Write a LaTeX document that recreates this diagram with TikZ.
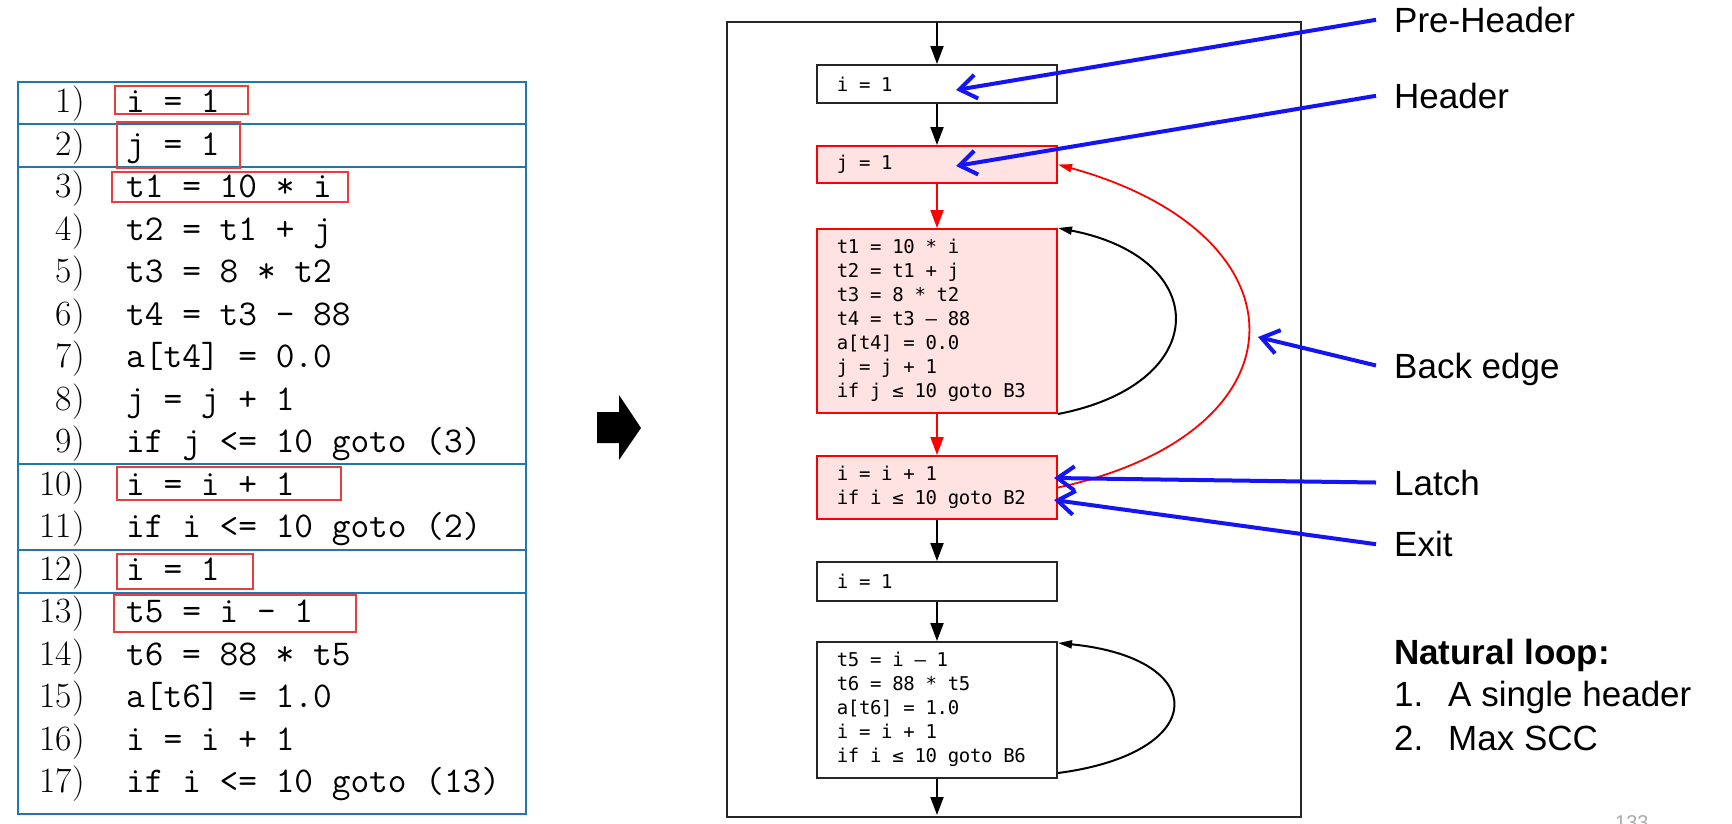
\documentclass[tikz,border=0pt]{standalone}
\usepackage{fontspec}
\setmainfont{Latin Modern Roman}
\setmonofont{Latin Modern Mono}
\newfontfamily\cfgfont{DejaVu Sans Mono}
\newfontfamily\labfont{Liberation Sans}
\usetikzlibrary{arrows.meta,calc}
\definecolor{panelblue}{RGB}{30,120,175}
\definecolor{codered}{RGB}{232,62,62}
\definecolor{hlred}{RGB}{255,0,0}
\definecolor{hlfill}{RGB}{255,226,226}
\definecolor{annblue}{RGB}{20,20,245}
\definecolor{pagegray}{RGB}{170,170,170}
\ExplSyntaxOn
\NewDocumentCommand\mline{m}{ \tl_map_inline:nn {#1} { \makebox[11.1pt][c]{##1} } }
\ExplSyntaxOff
\tikzset{
  num/.style={anchor=base east, inner sep=0pt, font=\rmfamily\fontsize{35.5}{42}\selectfont},
  code/.style={anchor=base west, inner sep=0pt, font=\ttfamily\fontsize{36.3}{42}\selectfont},
  redbox/.style={draw=codered, line width=2.8pt},
  sepline/.style={draw=panelblue, line width=2.2pt},
  block/.style={draw=black!85, line width=2pt, fill=white, minimum width=240pt,
    text width=200pt, inner xsep=20pt, inner ysep=0pt, align=left,
    font=\cfgfont\fontsize{19}{24}\selectfont},
  hot/.style={block, draw=hlred, fill=hlfill},
  flow/.style={line width=2pt, -{Triangle[length=18pt,width=13pt]}},
  loopedge/.style={line width=2pt, -{Triangle[length=14pt,width=8pt]}},
  ann/.style={draw=annblue, line width=4pt, -{Straight Barb[length=17pt,width=24pt]}},
  lab/.style={anchor=base west, inner xsep=18pt, inner ysep=0pt, text height=25pt, text depth=0pt,
    font=\labfont\fontsize{35}{42}\selectfont},
  txt/.style={anchor=base west, inner sep=0pt, font=\labfont\fontsize{35}{42}\selectfont}
}
\begin{document}
\begin{tikzpicture}[x=1pt,y=-1pt]
\useasboundingbox (0,0) rectangle (1732,823);

% ---------- left panel ----------
\draw[sepline] (18,82) rectangle (526,814);
\foreach \yy in {124,167,464,550,593} \draw[sepline] (18,\yy) -- (526,\yy);

\foreach \k/\c in {1/{i = 1},2/{j = 1},3/{t1 = 10 * i},4/{t2 = t1 + j},5/{t3 = 8 * t2},
  6/{t4 = t3 - 88},7/{a[t4] = 0.0},8/{j = j + 1},9/{if j <= 10 goto (3)},
  10/{i = i + 1},11/{if i <= 10 goto (2)},12/{i = 1},13/{t5 = i - 1},
  14/{t6 = 88 * t5},15/{a[t6] = 1.0},16/{i = i + 1},17/{if i <= 10 goto (13)}} {
  \pgfmathsetmacro{\yb}{112.7+(\k-1)*42.5}
  \node[num] (n\k) at (85,\yb) {\k)};
  \node[code] (c\k) at (126,\yb) {\c};
}

\draw[redbox] (115,86) rectangle (248,114);
\draw[redbox] (117,122) rectangle (240,168);
\draw[redbox] (112,172) rectangle (348,202);
\draw[redbox] (117,467) rectangle (341,500);
\draw[redbox] (117,554) rectangle (253,589);
\draw[redbox] (114,595) rectangle (356,632);

% ---------- big arrow ----------
\fill (597,412) -- (619,412) -- (619,395) -- (641,428) -- (619,460) -- (619,443) -- (597,443) -- cycle;

% ---------- CFG ----------
\draw[line width=2pt, draw=black!85] (727,22) rectangle (1301,817);
\coordinate (entry) at (937,22);
\coordinate (exitpt) at (937,815);

\node[block, minimum height=38pt] (B1) at (937,84) {\mline{i~=~1}};
\node[hot, minimum height=37pt] (B2) at (937,164.5) {\mline{j~=~1}};
\node[hot, minimum height=184pt] (B3) at (937,321) {\strut\mline{t1~=~10~*~i}\\ \mline{t2~=~t1~+~j}\\ \mline{t3~=~8~*~t2}\\ \mline{t4~=~t3~–~88}\\ \mline{a[t4]~=~0.0}\\ \mline{j~=~j~+~1}\\ \mline{if~j~≤~10~goto~B3}\strut};
\node[hot, minimum height=63pt] (B4) at (937,487.5) {\strut\mline{i~=~i~+~1}\\ \mline{if~i~≤~10~goto~B2}\strut};
\node[block, minimum height=39pt] (B5) at (937,581.5) {\mline{i~=~1}};
\node[block, minimum height=136pt] (B6) at (937,710) {\strut\mline{t5~=~i~–~1}\\ \mline{t6~=~88~*~t5}\\ \mline{a[t6]~=~1.0}\\ \mline{i~=~i~+~1}\\ \mline{if~i~≤~10~goto~B6}\strut};

\draw[flow] (entry) -- (B1);
\draw[flow] (B1) -- (B2);
\draw[flow, hlred] (B2) -- (B3);
\draw[flow, hlred] (B3) -- (B4);
\draw[flow] (B4) -- (B5);
\draw[flow] (B5) -- (B6);
\draw[flow] (B6) -- (exitpt);

\draw[loopedge] (B3.south east) .. controls +(155,-30) and +(155,30) .. (B3.north east);
\draw[loopedge] ($(B6.south east)+(0,-6)$) .. controls +(153,-20) and +(153,15) .. ($(B6.north east)+(0,2)$);
\draw[loopedge, hlred, line width=1.8pt] (B4.east) .. controls +(253,-55) and +(253,70) .. (B2.east);

% ---------- annotations ----------
\node[lab] (lPH) at (1376,32.3) {Pre-Header};
\node[lab] (lH) at (1376,108.3) {Header};
\node[lab] (lBE) at (1376,378) {Back edge};
\node[lab] (lL) at (1376,495) {Latch};
\node[lab] (lE) at (1376,556.7) {Exit};

\coordinate (tPH) at (956,90);
\coordinate (tH) at (956,166);
\coordinate (tBE) at (1258,337);
\coordinate (tL) at (1054,478);
\coordinate (tE) at (1054,500);

\draw[ann] (lPH.west) -- (tPH);
\draw[ann] (lH.west) -- (tH);
\draw[ann] (lBE.west) -- (tBE);
\draw[ann] (lL.west) -- (tL);
\draw[ann] (lE.west) -- (tE);

\node[txt, font=\labfont\bfseries\fontsize{35}{42}\selectfont] (nl) at (1394,664.3) {Natural loop:};
\node[txt] (i1) at (1394,706) {1.};
\node[txt] (t1) at (1448,706) {A single header};
\node[txt] (i2) at (1394,750) {2.};
\node[txt] (t2) at (1448,750) {Max SCC};

\begin{scope}
\clip (0,0) rectangle (1732,823);
\node[anchor=base west, inner sep=0pt, text=pagegray, font=\labfont\fontsize{20}{24}\selectfont] (pg) at (1615,829) {133};
\end{scope}
\end{tikzpicture}
\end{document}
